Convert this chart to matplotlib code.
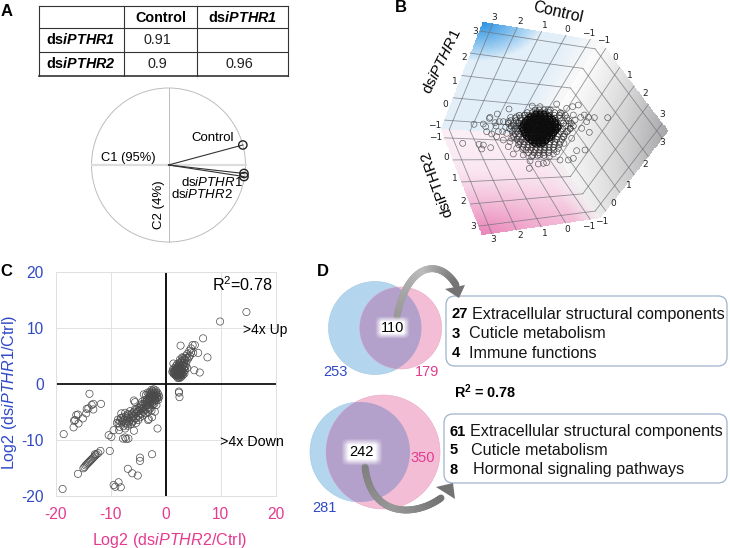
import numpy as np
import matplotlib
matplotlib.use('Agg')
import matplotlib.pyplot as plt
from matplotlib.collections import LineCollection
from matplotlib.patches import Circle, FancyBboxPatch, Polygon

plt.rcParams['font.family'] = ['Liberation Sans', 'DejaVu Sans']
plt.rcParams['mathtext.fontset'] = 'custom'
plt.rcParams['mathtext.rm'] = 'Liberation Sans'
plt.rcParams['mathtext.it'] = 'Liberation Sans:italic'
plt.rcParams['mathtext.bf'] = 'Liberation Sans:bold'
plt.rcParams['mathtext.bfit'] = 'Liberation Sans:italic:bold'
plt.rcParams['axes.unicode_minus'] = False

BLUE_TXT = '#2f49c6'
PINK_TXT = '#e43a8f'

# panel A
table_cols = ['', 'Control', r'ds$\mathbfit{iPTHR1}$']
table_rows = [r'ds$\mathbfit{iPTHR1}$', r'ds$\mathbfit{iPTHR2}$']
table_vals = [['0.91', ''], ['0.9', '0.96']]
pca_names = ['Control', 'dsiPTHR1', 'dsiPTHR2']
pca_c1 = [0.98, 0.995, 0.995]
pca_c2 = [0.26, -0.11, -0.15]

cloud_outer_x = [507, 577, 600, 650, 698, 715, 680, 450, 472, 402, 430, 437, 465, 478, 440, 455, 475, 497, 520, 505,
                 530, 555, 590, 625, 665, 700, 733, 745, 763, 740, 803, 748, 735, 710, 700, 685, 660, 620, 610, 595,
                 570, 568, 520, 505, 452, 430, 417, 425, 368, 510, 490, 530, 550, 448, 468, 490, 512, 535, 688, 705,
                 722, 680, 695, 672, 655, 640, 548, 535, 520, 575, 600, 628, 650, 672, 690, 500, 515, 470, 488, 725]
cloud_outer_y = [327, 318, 320, 312, 320, 315, 325, 352, 342, 373, 372, 380, 368, 365, 395, 402, 395, 382, 375, 365,
                 350, 345, 335, 330, 340, 345, 345, 352, 353, 365, 353, 397, 450, 452, 475, 480, 480, 488, 490, 492,
                 483, 505, 462, 440, 443, 435, 433, 447, 430, 425, 420, 445, 465, 355, 378, 365, 352, 368, 372, 360,
                 352, 395, 415, 430, 445, 462, 448, 425, 405, 470, 465, 470, 455, 410, 385, 400, 415, 410, 395, 385]
cloud_rows = {
    330: [585, 598, 612, 631],
    338: [562, 577, 590, 603, 616, 628, 644, 661],
    346: [538, 553, 566, 579, 591, 604, 617, 629, 643, 658, 676],
    354: [526, 541, 556, 568, 581, 593, 606, 618, 631, 645, 660, 681],
    362: [512, 529, 544, 558, 571, 583, 596, 608, 621, 634, 648, 664, 686],
    370: [505, 521, 536, 549, 562, 574, 587, 599, 612, 624, 638, 652, 670, 694],
    378: [514, 528, 541, 553, 566, 578, 591, 603, 616, 628, 642, 657, 677, 700],
    386: [509, 524, 537, 549, 561, 573, 586, 598, 611, 623, 636, 650, 668, 691],
    394: [518, 531, 544, 556, 569, 581, 594, 606, 619, 632, 646, 662, 683],
    402: [526, 539, 552, 564, 577, 589, 602, 614, 627, 641, 655, 674],
    410: [521, 536, 549, 561, 574, 586, 599, 611, 624, 637, 652, 670],
    418: [531, 545, 558, 571, 583, 596, 608, 621, 635, 649, 666],
    426: [541, 554, 566, 578, 591, 603, 616, 630, 645, 661],
    434: [536, 552, 565, 577, 590, 602, 615, 628, 643, 658],
    442: [549, 563, 576, 589, 601, 614, 627, 640],
    450: [558, 572, 586, 600, 613, 627, 642],
    458: [566, 582, 596, 611, 626],
    466: [578, 593, 612],
}
core_rows = {
    342: [588, 600, 612],
    350: [571, 582, 593, 604, 615, 626],
    358: [563, 574, 585, 596, 607, 618, 629, 638],
    366: [556, 567, 578, 589, 600, 611, 622, 633, 644],
    374: [550, 561, 572, 583, 594, 605, 616, 627, 638, 648],
    382: [546, 557, 568, 579, 590, 601, 612, 623, 634, 645, 654],
    390: [549, 560, 571, 582, 593, 604, 615, 626, 637, 648],
    398: [553, 564, 575, 586, 597, 608, 619, 630, 641],
    406: [558, 569, 580, 591, 602, 613, 624, 635],
    414: [565, 576, 587, 598, 609, 620, 629],
    422: [574, 585, 596, 607, 617],
    430: [584, 596, 608],
}
cube_ticks = [-1, 0, 1, 2, 3]
tick_top = [(747, 100), (683, 88), (615, 78), (542, 65), (463, 52)]
tick_left_up = [(285, 378), (317, 313), (345, 245), (373, 173), (405, 95)]
tick_right_up = [(790, 122), (826, 172), (870, 225), (917, 282), (966, 343)]
tick_right_low = [(785, 665), (821, 612), (866, 555), (915, 493), (967, 427)]
tick_bottom = [(745, 680), (682, 690), (613, 700), (540, 708), (460, 718)]
tick_left_low = [(288, 412), (318, 472), (344, 535), (371, 605), (400, 680)]

# panel C
up_points = [(14.7, 12.8), (9.9, 11.1), (6.8, 8.1), (7.6, 4.7), (5.9, 5.5), (6.2, 2.0), (5.2, 2.4), (2.7, 6.8), (1.4, 3.6),
             (4.9, 6.9), (5.3, 6.9), (4.6, 6.3), (4.3, 5.9), (5.0, 5.5), (4.4, 5.0), (3.9, 5.3), (3.6, 4.9), (3.2, 4.6),
             (4.0, 4.3), (3.5, 4.2), (3.0, 4.1), (2.7, 3.9), (3.3, 3.7), (2.4, 3.6), (2.9, 3.4), (1.9, 3.2), (2.3, 3.2),
             (3.4, 3.0), (2.7, 3.0), (1.6, 2.8), (2.0, 2.8), (2.4, 2.8), (3.0, 2.6), (1.3, 2.5), (1.7, 2.4), (2.1, 2.4),
             (2.5, 2.4), (2.9, 2.3), (3.5, 2.4), (1.2, 2.1), (1.6, 2.0), (2.0, 2.0), (2.4, 2.0), (2.8, 1.9), (3.2, 2.0),
             (1.5, 1.7), (1.9, 1.7), (2.3, 1.6), (2.7, 1.6), (3.1, 1.5), (2.0, 1.3), (2.4, 1.2), (2.8, 1.2), (2.2, 1.0),
             (2.5, 1.0), (2.2, 2.2), (2.6, 2.7), (2.2, 3.0), (1.8, 2.2), (2.6, 2.2), (2.4, 1.8), (2.0, 1.6), (2.9, 2.8),
             (2.4, -1.4), (2.4, -1.6), (2.5, -2.4), (1.4, 1.9), (1.8, 1.5), (2.2, 1.4), (2.6, 1.4), (3.0, 1.8), (3.3, 2.6),
             (1.5, 2.3), (1.9, 2.6), (2.3, 2.6), (2.7, 2.5), (3.1, 3.2), (2.5, 3.3), (2.1, 3.5), (3.7, 3.6), (2.8, 3.7),
             (3.2, 3.3), (2.3, 1.9), (2.7, 2.0), (2.1, 1.9), (1.7, 1.8), (2.5, 1.7), (2.9, 1.6), (3.8, 4.6), (4.6, 5.6),
             (4.2, 4.7), (3.4, 4.4), (3.0, 4.7), (2.6, 4.3), (3.6, 3.1), (3.9, 2.8), (3.4, 1.8), (2.1, 2.7), (2.4, 2.4)]
down_points = [(-1.5, -8.0), (-2.5, -6.0), (-3.1, -6.3), (-3.2, -6.5), (-2.0, -5.0), (-2.6, -4.8), (-1.7, -3.8),
               (-1.2, -2.4), (-1.3, -2.0), (-1.5, -1.6), (-1.8, -1.2), (-2.2, -1.0), (-2.6, -1.1), (-2.9, -1.5),
               (-3.3, -1.6), (-3.6, -2.0), (-4.0, -1.9), (-1.6, -2.6), (-1.9, -2.2), (-2.2, -1.8), (-2.5, -1.6),
               (-2.8, -2.0), (-3.0, -2.4), (-2.6, -2.6), (-2.2, -2.6), (-1.8, -3.0), (-2.2, -3.2), (-2.6, -3.2),
               (-3.0, -3.0), (-3.4, -2.8), (-3.3, -3.4), (-2.9, -3.6), (-2.4, -3.8), (-2.0, -2.2), (-2.4, -2.2),
               (-2.0, -2.9), (-2.8, -2.8), (-2.4, -1.3), (-1.6, -2.2), (-3.7, -3.3), (-3.6, -3.9), (-3.2, -4.2),
               (-2.8, -4.4), (-4.1, -3.6), (-4.0, -4.3), (-3.5, -4.6), (-3.2, -5.0), (-4.4, -4.0), (-4.5, -4.6),
               (-4.1, -5.0), (-3.7, -5.3), (-4.9, -4.2), (-5.0, -4.9), (-4.6, -5.3), (-4.2, -5.7), (-5.3, -4.6),
               (-5.5, -5.3), (-5.1, -5.7), (-4.7, -6.0), (-5.8, -5.0), (-5.9, -5.8), (-5.4, -6.2), (-5.0, -6.5),
               (-5.8, -3.0), (-5.6, -3.3), (-6.2, -5.5), (-6.4, -6.2), (-5.9, -6.6), (-5.4, -7.0), (-5.8, -8.4),
               (-6.7, -5.6), (-6.9, -5.4), (-7.0, -6.1), (-6.8, -6.8), (-6.3, -7.2), (-7.4, -5.2), (-7.5, -6.4),
               (-7.3, -7.0), (-6.9, -7.5), (-8.1, -5.3), (-8.2, -6.2), (-8.0, -6.9), (-7.7, -7.6), (-7.4, -8.0),
               (-8.7, -6.4), (-8.6, -7.1), (-8.4, -7.7), (-8.9, -7.0), (-8.5, -8.3), (-9.5, -8.3), (-8.1, -6.1),
               (-10.4, -9.2), (-9.9, -9.5), (-7.8, -9.8), (-7.4, -9.6), (-6.8, -9.8), (-7.2, -9.9),
               (-1.4, -2.9), (-1.7, -1.9), (-2.1, -1.4), (-2.7, -1.8), (-3.1, -1.9), (-1.9, -2.6), (-2.3, -2.9),
               (-2.7, -2.4), (-3.1, -2.7), (-2.5, -3.5), (-2.1, -3.6), (-1.5, -2.4), (-2.6, -2.1), (-2.2, -2.2),
               (-1.8, -1.6), (-2.9, -3.2), (-3.4, -3.1), (-3.8, -2.9), (-3.8, -3.6), (-4.3, -3.2), (-4.5, -3.7),
               (-4.7, -4.4), (-4.2, -4.4), (-3.4, -3.8), (-3.0, -4.6), (-3.9, -4.7), (-4.4, -5.4), (-4.8, -4.8),
               (-5.2, -5.1), (-5.6, -4.6), (-6.0, -5.3), (-6.5, -4.9), (-6.2, -6.0), (-5.7, -6.2), (-6.6, -6.6),
               (-7.2, -5.8), (-7.7, -5.9), (-7.8, -6.6), (-7.1, -6.6), (-8.4, -6.7), (-6.1, -6.9), (-7.0, -7.2)]
left_points = [(-13.9, -1.8), (-11.8, -3.6), (-13.2, -3.6), (-13.5, -3.8), (-13.2, -4.6), (-14.4, -4.5), (-14.5, -5.3),
               (-16.0, -5.5), (-16.3, -5.6), (-16.5, -6.5), (-16.7, -6.6), (-15.1, -6.2), (-15.9, -7.1), (-16.8, -7.8),
               (-18.6, -9.0), (-14.1, -4.4)]
chain_points = [(-16.0, -16.1), (-15.0, -15.1), (-14.8, -14.9), (-14.6, -14.6), (-14.4, -14.4), (-14.2, -14.2),
                (-14.0, -14.0), (-13.8, -13.8), (-13.6, -13.6), (-13.4, -13.4), (-13.2, -13.2), (-13.0, -13.0),
                (-12.8, -12.8), (-12.6, -12.6), (-12.9, -12.6), (-11.9, -12.0), (-12.3, -12.4)]
low_points = [(-10.2, -12.0), (-2.5, -12.6), (-4.7, -13.2), (-4.7, -13.8), (-6.9, -15.2), (-6.1, -16.0), (-5.1, -16.4),
              (-8.6, -17.6), (-9.5, -18.1), (-9.2, -18.4), (-8.2, -18.5), (-18.8, -18.8)]
c_ticks = [-20, -10, 0, 10, 20]

# panel D
venn_top = {'blue': 253, 'both': 110, 'pink': 179}
venn_bottom = {'blue': 281, 'both': 242, 'pink': 350}
box_top = [('27', 'Extracellular structural components'), ('3', 'Cuticle metabolism'), ('4', 'Immune functions')]
box_bottom = [('61', 'Extracellular structural components'), ('5', 'Cuticle metabolism'),
              ('8', 'Hormonal signaling pathways')]


def lerp_wall(p00, p10, p11, p01, u, v):
    p00, p10, p11, p01 = map(np.asarray, (p00, p10, p11, p01))
    return ((1 - u) * (1 - v))[..., None] * p00 + (u * (1 - v))[..., None] * p10 + \
        (u * v)[..., None] * p11 + ((1 - u) * v)[..., None] * p01


def draw_wall(ax, corners, shade, tick_fracs):
    u, v = np.meshgrid(np.linspace(0, 1, 61), np.linspace(0, 1, 61))
    xy = lerp_wall(*corners, u, v)
    uc = (u[:-1, :-1] + u[1:, 1:]) / 2
    vc = (v[:-1, :-1] + v[1:, 1:]) / 2
    ax.pcolormesh(xy[..., 0], xy[..., 1], shade(uc, vc), shading='flat', antialiased=False,
                  rasterized=True, zorder=1, edgecolor='none')
    for f in tick_fracs:
        t = np.linspace(0, 1, 2)
        a = lerp_wall(*corners, np.full(2, f), t)
        b = lerp_wall(*corners, t, np.full(2, f))
        ax.plot(a[:, 0], a[:, 1], color='#6f7278', lw=0.6, alpha=0.75, zorder=2)
        ax.plot(b[:, 0], b[:, 1], color='#6f7278', lw=0.6, alpha=0.75, zorder=2)


def mix(c0, c1, s):
    c0, c1 = np.array(c0) / 255, np.array(c1) / 255
    rgb = c0 + (c1 - c0) * s[..., None]
    return np.clip(rgb, 0, 1)


def blue_shade(u, v):
    # u runs along the top edge, v down towards the centre
    s = np.clip(1 - np.hypot(u / 0.5, v / 0.36), 0, 1) ** 0.9
    rgb = mix((226, 239, 249), (40, 146, 226), s)
    fade = np.clip((u - 0.72) / 0.25, 0, 1)[..., None]
    return rgb * (1 - fade) + fade * 0.97


def gray_shade(u, v):
    s = np.clip(u, 0, 1) ** 1.1 * (1 - 0.8 * np.clip(v, 0, 1))
    return mix((252, 252, 252), (165, 165, 167), s)


def pink_shade(u, v):
    s = np.clip(v, 0, 1)
    k = np.clip(1 - np.hypot((1 - v) / 0.6, u / 1.0), 0, 1)
    rgb = mix((251, 238, 245), (243, 190, 216), s ** 1.8)
    rgb = rgb + (mix((243, 190, 216), (234, 130, 185), k) - rgb) * k[..., None]
    fade = np.clip((u - 0.8) / 0.2, 0, 1)[..., None]
    return rgb * (1 - fade) + fade * np.array([0.95, 0.93, 0.94])


def soft_box(ax, x0, x1, y0, y1, zorder=6):
    w, h = 60, 40
    gx = np.clip(np.minimum(np.linspace(0, 1, w), np.linspace(1, 0, w)) / 0.18, 0, 1)
    gy = np.clip(np.minimum(np.linspace(0, 1, h), np.linspace(1, 0, h)) / 0.25, 0, 1)
    img = np.ones((h, w, 4))
    img[..., 3] = np.outer(gy, gx)
    ax.imshow(img, extent=(x0, x1, y1, y0), aspect='auto', zorder=zorder, interpolation='bilinear')


def curved_arrow(ax, p0, p1, p2, p3, head, grays, lw=5):
    t = np.linspace(0, 1, 60)[..., None]
    pts = (1 - t) ** 3 * np.array(p0) + 3 * (1 - t) ** 2 * t * np.array(p1) + \
        3 * (1 - t) * t ** 2 * np.array(p2) + t ** 3 * np.array(p3)
    segs = np.stack([pts[:-1], pts[1:]], axis=1)
    g = np.interp(t[:-1, 0], [0, 0.5, 1], grays)
    lc = LineCollection(segs, colors=[(a, a, a, 1) for a in g], linewidths=lw, capstyle='round', zorder=5)
    ax.add_collection(lc)
    ax.add_patch(Polygon(head, closed=True, fc=(grays[2],) * 3, ec='none', zorder=5))


def draw_venn(ax, blue_c, blue_r, pink_c, pink_r):
    ax.add_patch(Circle(blue_c, blue_r, fc='#b3d6ee', ec='#9fc8e4', lw=0.4, zorder=3))
    ax.add_patch(Circle(pink_c, pink_r, fc='#f3bdd5', ec='#e9a9c6', lw=0.4, zorder=3))
    clip = Circle(blue_c, blue_r, transform=ax.transData)
    overlap = Circle(pink_c, pink_r, fc='#b3a1cb', ec='none', zorder=4)
    ax.add_patch(overlap)
    overlap.set_clip_path(clip)


def draw_box(ax, x0, y0, x1, y1, lines, num_x, txt_x, ys):
    ax.add_patch(FancyBboxPatch((x0 + 8, y0 + 8), x1 - x0 - 16, y1 - y0 - 16, boxstyle='round,pad=8,rounding_size=9',
                                fc='white', ec='#9db3cd', lw=0.9, zorder=4))
    for (num, label), tx, y in zip(lines, txt_x, ys):
        ax.text(num_x, y, num, fontsize=10.6, fontweight='bold', va='center', zorder=7)
        ax.text(tx, y, label, fontsize=11.6, va='center', color='#151515', zorder=7)


fig = plt.figure(figsize=(7.3, 5.48), dpi=100)

# panel C scatter
ax_c = fig.add_axes([56 / 730, 1 - 495.7 / 548, (275.5 - 56) / 730, (495.7 - 271.7) / 548])
ax_c.set_xlim(-20, 20)
ax_c.set_ylim(-20, 20)
ax_c.set_xticks(c_ticks)
ax_c.set_yticks(c_ticks)
ax_c.grid(True, color='#e2e2e2', lw=0.7)
ax_c.set_axisbelow(True)
for s in ax_c.spines.values():
    s.set_color('#e0e0e0')
    s.set_linewidth(0.7)
ax_c.tick_params(length=0)
ax_c.tick_params(axis='x', labelcolor=PINK_TXT, labelsize=11.2, pad=8)
ax_c.tick_params(axis='y', labelcolor=BLUE_TXT, labelsize=11.2, pad=9)
ax_c.axhline(0, color='#222222', lw=1.4, zorder=2)
ax_c.axvline(0, color='#111111', lw=1.4, zorder=2)
for group in (up_points, down_points, left_points, chain_points, low_points):
    gx, gy = zip(*group)
    ax_c.scatter(gx, gy, s=27, fc='none', ec='#4a4a4a', lw=0.5, zorder=3)

# overlay in pixel coordinates for everything else
ax = fig.add_axes([0, 0, 1, 1])
ax.patch.set_alpha(0)
ax.axis('off')

ax.text(170, 540, r'Log2 (ds$\mathit{iPTHR2}$/Ctrl)', color=PINK_TXT, fontsize=11.6, ha='center', va='center')
ax.text(10, 392, r'Log2 (ds$\mathit{iPTHR1}$/Ctrl)', color=BLUE_TXT, fontsize=11.6, rotation=90, ha='center', va='center')

for label, x, y in [('A', 7, 12), ('B', 401, 7), ('C', 6, 272), ('D', 323, 271)]:
    ax.text(x, y, label, fontsize=12, fontweight='bold', ha='center', va='center', zorder=9)

# table
col_edges = [39, 124, 197, 288]
row_edges = [6, 28, 52, 76]
for y in row_edges:
    ax.plot([col_edges[0], col_edges[-1]], [y, y], color='#333333', lw=0.8 if y != 76 else 1.2)
for x in col_edges:
    ax.plot([x, x], [row_edges[0], row_edges[-1]], color='#333333', lw=0.8)
for j, name in enumerate(table_cols):
    if name:
        ax.text((col_edges[j] + col_edges[j + 1]) / 2, 17.5, name, fontsize=10.4, fontweight='bold', ha='center', va='center')
for i, name in enumerate(table_rows):
    cy = (row_edges[i + 1] + row_edges[i + 2]) / 2
    ax.text(46, cy, name, fontsize=10.4, fontweight='bold', va='center')
    for j, v in enumerate(table_vals[i]):
        ax.text((col_edges[j + 1] + col_edges[j + 2]) / 2 - 3, cy, v, fontsize=10.4, ha='center', va='center', color='#222222')

# correlation circle
cx, cy, r = 168.5, 165, 77
ax.add_patch(Circle((cx, cy), r, fc='white', ec='#bdbdbd', lw=0.7))
ax.plot([cx - r, cx + r], [cy, cy], color='#dddddd', lw=1.6, zorder=2)
ax.plot([cx, cx], [cy - r, cy + r], color='#bcbcbc', lw=0.7, zorder=2)
for c1, c2 in zip(pca_c1, pca_c2):
    ex, ey = cx + r * c1 * 0.985, cy - r * c2
    ax.plot([cx, ex], [cy, ey], color='#333333', lw=0.8, zorder=3)
    ax.scatter([ex], [ey], s=36, fc='none', ec='#222222', lw=1, zorder=4)
ax.text(213, 138, 'Control', fontsize=9.5, ha='center', va='center', zorder=5)
ax.text(128, 158, 'C1 (95%)', fontsize=9.3, ha='center', va='center', zorder=5)
ax.text(212, 182.5, r'ds$\mathit{iPTHR1}$', fontsize=9.5, ha='center', va='center', zorder=5)
ax.text(202, 194, r'ds$\mathit{iPTHR2}$', fontsize=9.5, ha='center', va='center', zorder=5)
ax.text(159, 205, 'C2 (4%)', fontsize=9.5, rotation=90, ha='center', va='center', zorder=5)

# 3D box, drawn as three projected walls
A, B_, R, BR, BOT, L, MID = (483, 22), (600, 41), (668, 131), (600, 218), (482, 235), (441, 129), (541, 135)
fracs = [(3.4 - v) / 4.8 for v in cube_ticks]
draw_wall(ax, (A, B_, MID, L), blue_shade, fracs)
draw_wall(ax, (B_, R, BR, MID), gray_shade, [1 - f for f in fracs])
draw_wall(ax, (L, MID, BR, BOT), pink_shade, [1 - f for f in fracs])

ax.text(340 + 655 / 3, 12, 'Control', fontsize=11.3, rotation=-13, ha='center', va='center', zorder=8)
ax.text(340 + 305 / 3, 185 / 3, r'ds$\mathit{iPTHR1}$', fontsize=11, rotation=64, ha='center', va='center', zorder=8)
ax.text(340 + 290 / 3, 550 / 3, 'dsiPTHR2', fontsize=11, rotation=110, ha='center', va='center', zorder=8)
for positions in (tick_top, tick_left_up, tick_right_up, tick_right_low, tick_bottom, tick_left_low):
    for val, (zx, zy) in zip(cube_ticks, positions):
        ax.text(340 + zx / 3, zy / 3, str(val).replace('-', '\u2212'), fontsize=6.5, family='DejaVu Sans',
                ha='center', va='center', color='#222222', zorder=8)

outer_x = np.array(cloud_outer_x) / 3 + 340
outer_y = np.array(cloud_outer_y) / 3
ax.scatter(outer_x, outer_y, s=18, fc='none', ec='#555555', lw=0.45, zorder=6)
for rows, lw, col in [(cloud_rows, 0.45, '#333333'), (core_rows, 0.95, '#0c0c0c')]:
    px = [x / 3 + 340 for y, xs in rows.items() for x in xs]
    py = [y / 3 for y, xs in rows.items() for x in xs]
    ax.scatter(px, py, s=18, fc='none', ec=col, lw=lw, zorder=6)

# Venn diagrams
draw_venn(ax, (375, 328), 46.5, (400.7, 328), 41)
draw_venn(ax, (360, 452), 50, (383, 452), 57)
draw_box(ax, 446, 296, 727, 366, box_top, 452, [472, 469, 469], [314.5, 333.5, 353])
draw_box(ax, 444, 414, 727, 483, box_bottom, 450, [470, 471, 473], [431.5, 450.5, 469.5])

curved_arrow(ax, (397, 316), (408, 262), (440, 258), (456, 285),
             [(459, 298), (445, 289), (465, 285)], (0.60, 0.74, 0.45))
curved_arrow(ax, (365, 467), (371, 518), (415, 517), (441, 498),
             [(453, 483), (455, 499), (436, 487)], (0.50, 0.60, 0.45))

soft_box(ax, 375, 410, 316, 339)
soft_box(ax, 341, 383, 438, 466)
ax.text(393, 328, venn_top['both'], fontsize=10.5, ha='center', va='center', zorder=7)
ax.text(361.5, 452, venn_bottom['both'], fontsize=10.5, ha='center', va='center', zorder=7)
ax.text(335.5, 372, venn_top['blue'], fontsize=10.5, color=BLUE_TXT, ha='center', va='center', zorder=7)
ax.text(427, 372, venn_top['pink'], fontsize=10.5, color=PINK_TXT, ha='center', va='center', zorder=7)
ax.text(324, 508, venn_bottom['blue'], fontsize=10.5, color=BLUE_TXT, ha='center', va='center', zorder=7)
ax.text(423, 458, venn_bottom['pink'], fontsize=10.5, color=PINK_TXT, ha='center', va='center', zorder=7)
ax.text(485, 392, r'$\mathbf{R^2}$ = 0.78', fontsize=10.4, fontweight='bold', ha='center', va='center', zorder=7)

ax.text(242, 285, r'R$^2$=0.78', fontsize=11.6, ha='center', va='center', zorder=7)
ax.text(265, 330, '>4x Up', fontsize=10, ha='center', va='center', zorder=7)
ax.text(252, 442, '>4x Down', fontsize=10.3, ha='center', va='center', zorder=7)

ax.set_xlim(0, 730)
ax.set_ylim(548, 0)

fig.savefig('out.png', dpi=100)
